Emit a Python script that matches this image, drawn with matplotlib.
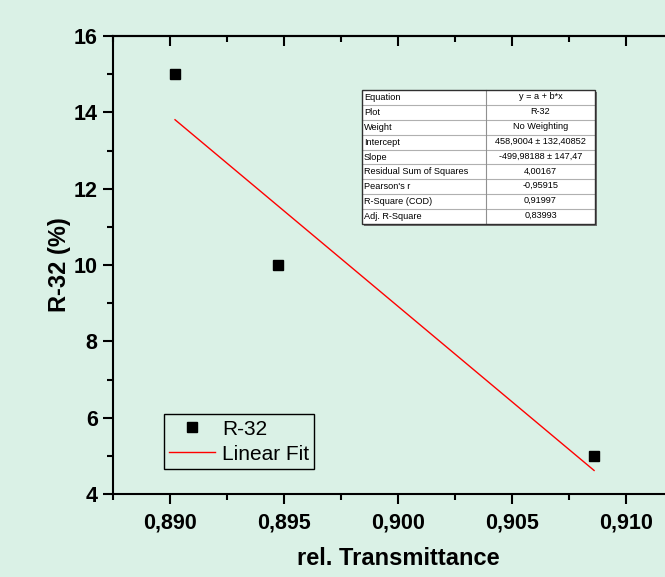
import matplotlib
matplotlib.use("Agg")
import matplotlib.pyplot as plt
import numpy as np
from matplotlib.ticker import MultipleLocator, FuncFormatter, NullFormatter
from matplotlib.patches import Rectangle

plt.rcParams['font.family'] = ['Liberation Sans', 'DejaVu Sans']

# Measured data
transmittance = [0.89022, 0.89474, 0.90860]
r32_percent = [15.0, 10.0, 5.0]

# Linear fit results
intercept = 458.9004
slope = -499.98188

stats_labels = ["Equation", "Plot", "Weight", "Intercept", "Slope",
                "Residual Sum of Squares", "Pearson's r", "R-Square (COD)",
                "Adj. R-Square"]
stats_values = ["y = a + b*x", "R-32", "No Weighting",
                "458,9004 \u00b1 132,40852", "-499,98188 \u00b1 147,47",
                "4,00167", "-0,95915", "0,91997", "0,83993"]

bg = '#daf1e6'
W, H = 665, 577
fig = plt.figure(figsize=(W / 100, H / 100), dpi=100, facecolor=bg)

left_px, right_px, top_px, bottom_px = 113, 683, 36, 494
ax = fig.add_axes([left_px / W, (H - bottom_px) / H,
                   (right_px - left_px) / W, (bottom_px - top_px) / H])
ax.set_facecolor(bg)

ax.set_xlim(0.8875, 0.9125)
ax.set_ylim(4, 16)

# fit line over the data range
xf = np.array([min(transmittance), max(transmittance)])
ax.plot(xf, intercept + slope * xf, color='#ff0000', lw=1.0, label='Linear Fit', zorder=2)
ax.plot(transmittance, r32_percent, 's', color='black', ms=7.5, label='R-32',
        linestyle='none', zorder=3)

for s in ax.spines.values():
    s.set_linewidth(1.5)

ax.xaxis.set_major_locator(MultipleLocator(0.005))
ax.xaxis.set_minor_locator(MultipleLocator(0.0025))
ax.yaxis.set_major_locator(MultipleLocator(2))
ax.yaxis.set_minor_locator(MultipleLocator(1))
ax.xaxis.set_major_formatter(FuncFormatter(lambda v, p: f"{v:.3f}".replace('.', ',')))
ax.yaxis.set_major_formatter(FuncFormatter(lambda v, p: f"{v:.0f}"))

ax.tick_params(which='major', length=7, width=1.5, direction='out', labelsize=15.5)
ax.tick_params(which='minor', length=4, width=1.5, direction='out')
ax.tick_params(axis='x', which='major', pad=6)
ax.tick_params(axis='y', which='major', pad=4)
for lab in ax.get_xticklabels() + ax.get_yticklabels():
    lab.set_fontweight('bold')

# top axis: inward ticks, no labels
top = ax.secondary_xaxis('top')
top.xaxis.set_major_locator(MultipleLocator(0.005))
top.xaxis.set_minor_locator(MultipleLocator(0.0025))
top.xaxis.set_major_formatter(NullFormatter())
top.tick_params(which='major', length=7, width=1.5, direction='in')
top.tick_params(which='minor', length=4, width=1.5, direction='in')
top.spines['top'].set_linewidth(1.5)

ax.set_xlabel('rel. Transmittance', fontsize=17, fontweight='bold', labelpad=10)
ax.set_ylabel('R-32 (%)', fontsize=17, fontweight='bold', labelpad=2)

# legend
handles, labels = ax.get_legend_handles_labels()
order = [1, 0]
leg = ax.legend([handles[i] for i in order], [labels[i] for i in order],
                loc='lower left', bbox_to_anchor=(0.0895, 0.0546),
                fontsize=15, frameon=True, fancybox=False, framealpha=1,
                borderpad=0.25, handlelength=2.2, handletextpad=0.33,
                labelspacing=0.3, borderaxespad=0)
leg.get_frame().set_facecolor(bg)
leg.get_frame().set_edgecolor('black')
leg.get_frame().set_linewidth(1.0)

# fit statistics table
tx0, ty0, tw, th = 362, 90, 233, 134
col_split = 124
nrows = len(stats_labels)
rh = th / nrows


def fx(px):
    return px / W


def fy(py):
    return (H - py) / H


# shadow
fig.patches.append(Rectangle((fx(tx0 + 2), fy(ty0 + th + 2)), tw / W, th / H,
                             transform=fig.transFigure, facecolor='#707070',
                             edgecolor='none', zorder=4))
fig.patches.append(Rectangle((fx(tx0), fy(ty0 + th)), tw / W, th / H,
                             transform=fig.transFigure, facecolor='white',
                             edgecolor='none', zorder=5))
for i in range(1, nrows):
    y = fy(ty0 + i * rh)
    fig.add_artist(plt.Line2D([fx(tx0), fx(tx0 + tw)], [y, y],
                              transform=fig.transFigure, color='#b0b0b0',
                              lw=0.8, zorder=6))
fig.add_artist(plt.Line2D([fx(tx0 + col_split)] * 2, [fy(ty0), fy(ty0 + th)],
                          transform=fig.transFigure, color='#909090',
                          lw=0.8, zorder=6))
fig.patches.append(Rectangle((fx(tx0), fy(ty0 + th)), tw / W, th / H,
                             transform=fig.transFigure, facecolor='none',
                             edgecolor='#303030', lw=1.0, zorder=7))
for i, (lab, val) in enumerate(zip(stats_labels, stats_values)):
    yc = fy(ty0 + (i + 0.5) * rh)
    fig.text(fx(tx0 + 2), yc, lab, fontsize=6.6, ha='left', va='center',
             zorder=8)
    fig.text(fx(tx0 + col_split + (tw - col_split) / 2), yc + 1 / H, val,
             fontsize=6.6, ha='center', va='center', zorder=8)

fig.savefig('out.png', dpi=100, facecolor=bg)
